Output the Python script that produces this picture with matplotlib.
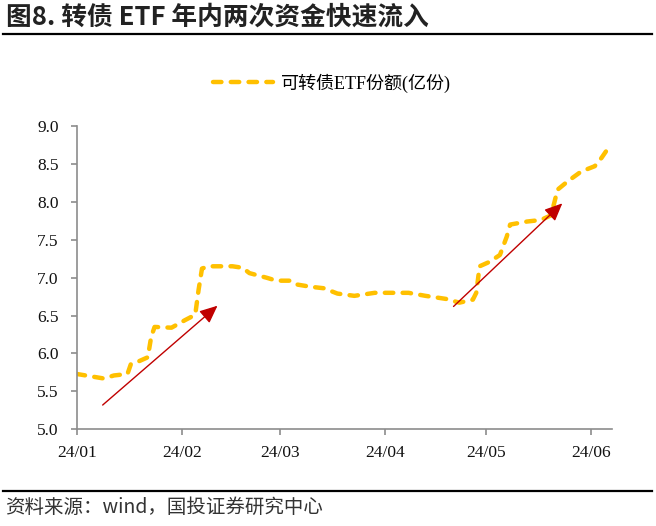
import matplotlib
matplotlib.use('Agg')
import matplotlib.pyplot as plt
import matplotlib.dates as mdates
from matplotlib.lines import Line2D
import pandas as pd

# Serif latin + CJK fallback
plt.rcParams['font.family'] = ['Liberation Serif', 'Noto Sans CJK SC']

# Data

dates = ['2024-01-01', '2024-01-05', '2024-01-09', '2024-01-12', '2024-01-16',
         '2024-01-17', '2024-01-19', '2024-01-22', '2024-01-23', '2024-01-24',
         '2024-01-29', '2024-02-02', '2024-02-05', '2024-02-06', '2024-02-07',
         '2024-02-09', '2024-02-16', '2024-02-19', '2024-02-21', '2024-02-26',
         '2024-02-29', '2024-03-04', '2024-03-06', '2024-03-10', '2024-03-14',
         '2024-03-18', '2024-03-23', '2024-03-29', '2024-04-08', '2024-04-13',
         '2024-04-19', '2024-04-23', '2024-04-27', '2024-04-28', '2024-04-29',
         '2024-05-02', '2024-05-05', '2024-05-07', '2024-05-08', '2024-05-13',
         '2024-05-17', '2024-05-20', '2024-05-21', '2024-05-22', '2024-05-25',
         '2024-05-29', '2024-06-02', '2024-06-04', '2024-06-06', '2024-06-07']
shares = [5.73, 5.70, 5.67, 5.71, 5.73,
          5.86, 5.89, 5.95, 6.22, 6.35,
          6.34, 6.44, 6.51, 6.84, 7.12,
          7.15, 7.15, 7.13, 7.06, 7.00,
          6.96, 6.96, 6.91, 6.88, 6.86,
          6.79, 6.76, 6.80, 6.80, 6.76,
          6.72, 6.67, 6.71, 6.80, 7.15,
          7.21, 7.30, 7.54, 7.70, 7.74,
          7.76, 7.82, 7.98, 8.16, 8.27,
          8.40, 8.47, 8.58, 8.71, 8.76]

month_ticks = ['2024-01-01', '2024-02-01', '2024-03-01',
               '2024-04-01', '2024-05-01', '2024-06-01']
y_ticks = [5.0, 5.5, 6.0, 6.5, 7.0, 7.5, 8.0, 8.5, 9.0]

# two "inflow" arrows: (tail date, tail value) -> (head date, head value)
arrow_tails = [('2024-01-08 16:00', 5.32), ('2024-04-21 07:00', 6.62)]
arrow_heads = [('2024-02-11 14:00', 6.63), ('2024-05-23 10:00', 7.98)]

title = '图8. 转债 ETF 年内两次资金快速流入'
series_name = '可转债ETF份额(亿份)'
source = '资料来源：wind，国投证券研究中心'

# Plot

W, H = 656, 526
fig = plt.figure(figsize=(W / 100, H / 100), dpi=100)
ax = fig.add_axes([76.7 / W, 1 - 429.3 / H, (611.7 - 76.7) / W, (429.3 - 126) / H])

x = pd.to_datetime(dates)
line, = ax.plot(x, shares, color='#FFC000', lw=3.2, dashes=(1.9, 2.1),
                dash_capstyle='round', solid_capstyle='round')

for (t0, v0), (t1, v1) in zip(arrow_tails, arrow_heads):
    ax.annotate('', xy=(pd.Timestamp(t1), v1), xytext=(pd.Timestamp(t0), v0),
                arrowprops=dict(arrowstyle='-|>,head_length=0.9,head_width=0.4',
                                color='#C00000', lw=1.0, mutation_scale=12,
                                shrinkA=0, shrinkB=0))

ax.set_xlim(pd.Timestamp('2024-01-01'), pd.Timestamp('2024-06-07'))
ax.set_ylim(5.0, 9.0)
ax.set_xticks(pd.to_datetime(month_ticks))
ax.xaxis.set_major_formatter(mdates.DateFormatter('%y/%m'))
ax.set_yticks(y_ticks)
ax.set_yticklabels(['%.1f' % v for v in y_ticks])

for side in ['top', 'right']:
    ax.spines[side].set_visible(False)
for side in ['left', 'bottom']:
    ax.spines[side].set_color('#8c8c8c')
    ax.spines[side].set_linewidth(1.2)
ax.tick_params(axis='both', colors='#8c8c8c', length=4, width=1.2,
               labelcolor='#111111', labelsize=12.5)
ax.tick_params(axis='y', pad=9)
ax.tick_params(axis='x', pad=7)

fig.legend([line], [series_name], loc='center', bbox_to_anchor=(332 / W, 1 - 83 / H),
           frameon=False, fontsize=13, handlelength=3.3, handletextpad=0.45)

# header / footer
fig.text(6 / W, 1 - 17 / H, title, fontsize=18.5, fontweight='bold', color='#222222',
         family=['Noto Sans CJK SC'], ha='left', va='center')
fig.add_artist(Line2D([3 / W, 652 / W], [1 - 34 / H] * 2, color='black', lw=1.6,
                      transform=fig.transFigure))
fig.add_artist(Line2D([3 / W, 652 / W], [1 - 491 / H] * 2, color='black', lw=1.6,
                      transform=fig.transFigure))
fig.text(5 / W, 1 - 507 / H, source, fontsize=14, color='#333333', style='italic',
         family=['Noto Sans CJK SC'], ha='left', va='center')

fig.savefig('out.png', dpi=100)
